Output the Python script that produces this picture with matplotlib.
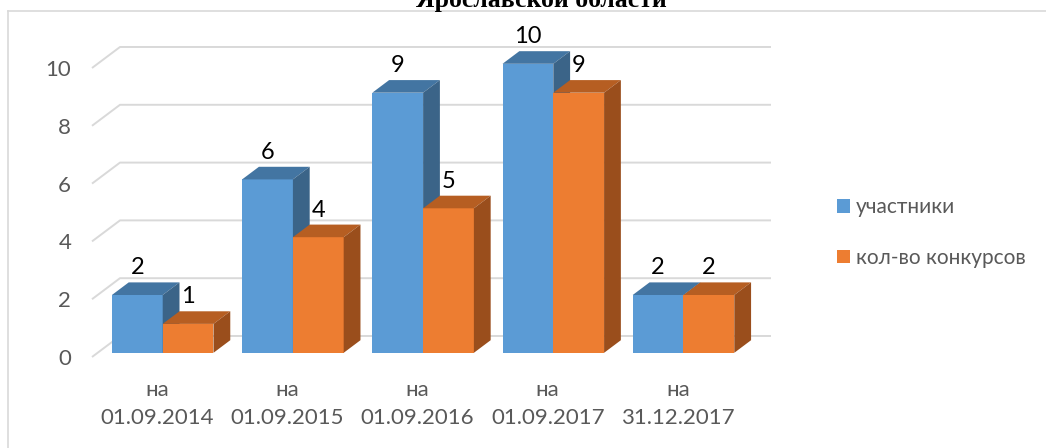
"""3D-style clustered column chart: participants vs number of contests."""

import matplotlib

matplotlib.use("Agg")
import matplotlib.pyplot as plt
from matplotlib.lines import Line2D
from matplotlib.patches import Patch, Polygon

plt.rcParams["font.family"] = ["Lato", "Open Sans", "DejaVu Sans"]

CATEGORIES = [
    "на\n01.09.2014",
    "на\n01.09.2015",
    "на\n01.09.2016",
    "на\n01.09.2017",
    "на\n31.12.2017",
]
PARTICIPANTS = [2, 6, 9, 10, 2]
CONTESTS = [1, 4, 5, 9, 2]
SERIES_NAMES = ["участники", "кол-во конкурсов"]
Y_TICKS = [0, 2, 4, 6, 8, 10]
TITLE = "Ярославской области"

# front / top / side shades per series
BLUE = ("#5b9bd5", "#4375a2", "#3b6488")
ORANGE = ("#ed7d31", "#b65e22", "#9a4e1c")
GRID = "#d9d9d9"
TEXT_GRAY = "#595959"

W_PX, H_PX, DPI = 1046, 448, 100

# depth of the floor/walls in data units (x: categories, y: values)
DEPTH_X = 0.215
DEPTH_Y = 0.727
BAR_GAP = 0.11
BAR_W = 0.39


def draw_bar(ax, x0, value, shades):
    front, top, side = shades
    bx = 0.2 * DEPTH_X
    by = 0.2 * DEPTH_Y
    dx = 0.6 * DEPTH_X
    dy = 0.6 * DEPTH_Y
    left = x0 + bx
    right = left + BAR_W
    ax.bar(left, value, width=BAR_W, bottom=by, align="edge", color=front,
           linewidth=0, zorder=3, clip_on=False)
    top_y = value + by
    ax.add_patch(Polygon(
        [(left, top_y), (right, top_y), (right + dx, top_y + dy), (left + dx, top_y + dy)],
        closed=True, facecolor=top, linewidth=0, zorder=3, clip_on=False))
    ax.add_patch(Polygon(
        [(right, by), (right, top_y), (right + dx, top_y + dy), (right + dx, by + dy)],
        closed=True, facecolor=side, linewidth=0, zorder=3, clip_on=False))
    ax.annotate(f"{value}", (left + BAR_W / 2, top_y), textcoords="offset points",
                xytext=(0, 19.5), ha="center", va="center", fontsize=17,
                color="black", zorder=5, annotation_clip=False)


fig = plt.figure(figsize=(W_PX / DPI, H_PX / DPI), dpi=DPI)
ax = fig.add_axes([92 / W_PX, 91 / H_PX, 651 / W_PX, 289 / H_PX])
ax.set_xlim(0, len(CATEGORIES))
ax.set_ylim(0, 10)
for spine in ax.spines.values():
    spine.set_visible(False)
ax.patch.set_alpha(0)

n = len(CATEGORIES)
for v in Y_TICKS:
    ax.plot([0, DEPTH_X, n + DEPTH_X], [v, v + DEPTH_Y, v + DEPTH_Y],
            color=GRID, linewidth=1.4, zorder=1, clip_on=False,
            solid_capstyle="butt")

for i in range(n):
    draw_bar(ax, i + BAR_GAP, PARTICIPANTS[i], BLUE)
    draw_bar(ax, i + BAR_GAP + BAR_W, CONTESTS[i], ORANGE)

ax.set_yticks(Y_TICKS)
ax.set_yticklabels([str(v) for v in Y_TICKS])
ax.set_xticks([i + 0.5 for i in range(n)])
ax.set_xticklabels(CATEGORIES, linespacing=1.5)
ax.tick_params(axis="y", length=0, pad=15, labelsize=16, labelcolor=TEXT_GRAY)
ax.tick_params(axis="x", length=0, pad=16.5, labelsize=16, labelcolor=TEXT_GRAY)

handles = [Patch(facecolor=BLUE[0]), Patch(facecolor=ORANGE[0])]
fig.legend(handles, SERIES_NAMES, loc="center left",
           bbox_to_anchor=(837 / W_PX, 1 - 232.5 / H_PX), frameon=False,
           fontsize=15, labelcolor=TEXT_GRAY, handlelength=0.62,
           handleheight=0.62, handletextpad=0.3, labelspacing=1.45,
           borderpad=0, borderaxespad=0)

# chart frame (only top and left edges are inside the picture)
fig.add_artist(Line2D([8 / W_PX, 8 / W_PX], [0, 1 - 11 / H_PX],
                      transform=fig.transFigure, color=GRID, linewidth=1.2))
fig.add_artist(Line2D([8 / W_PX, 1], [1 - 11 / H_PX, 1 - 11 / H_PX],
                      transform=fig.transFigure, color=GRID, linewidth=1.2))

fig.text(541 / W_PX, 1 - 7 / H_PX, TITLE, ha="center", va="baseline",
         fontsize=18.5, fontweight="bold", family=["Liberation Serif", "DejaVu Serif"])

fig.savefig("out.png", dpi=DPI)
